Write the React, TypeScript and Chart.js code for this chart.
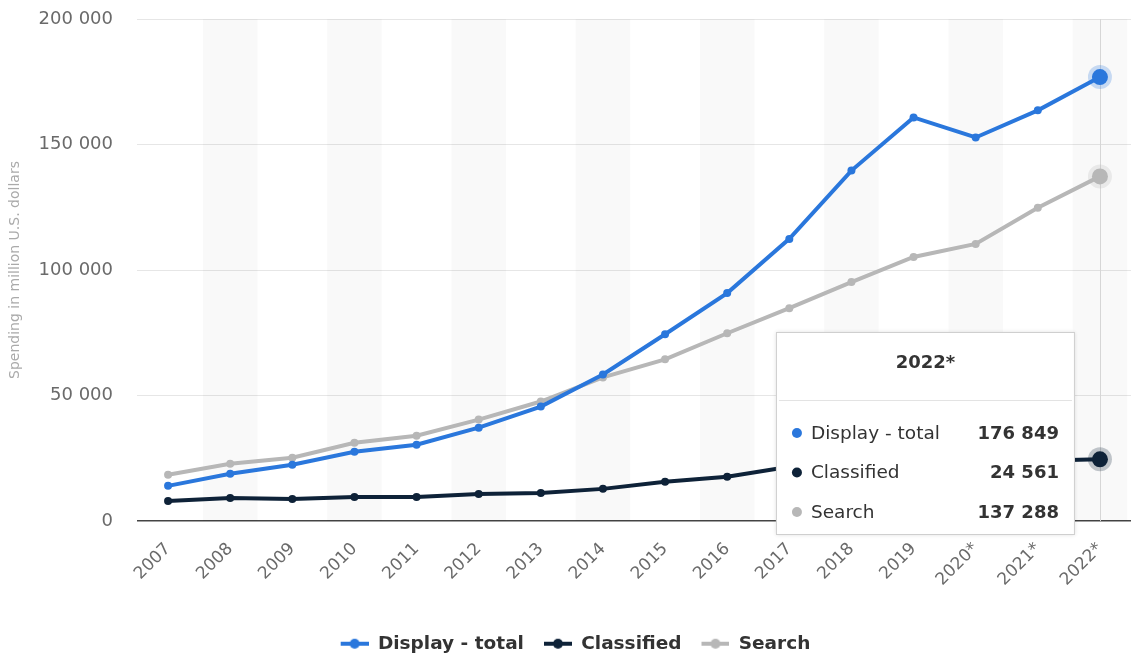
import React, { useEffect, useRef } from 'react';
import { Chart, registerables } from 'chart.js';

Chart.register(...registerables);

const years = ['2007', '2008', '2009', '2010', '2011', '2012', '2013', '2014', '2015', '2016', '2017', '2018', '2019', '2020*', '2021*', '2022*'];
const displayTotal = [14000, 18800, 22400, 27600, 30400, 37200, 45600, 58400, 74400, 90800, 112400, 139600, 160800, 152800, 163600, 176849];
const classified = [8000, 9200, 8800, 9600, 9600, 10800, 11200, 12800, 15600, 17600, 21600, 22600, 23200, 23000, 24000, 24561];
const search = [18400, 22800, 25200, 31200, 34000, 40400, 47600, 57200, 64400, 74800, 84800, 95200, 105200, 110400, 124800, 137288];
const seriesNames = ['Display - total', 'Classified', 'Search'];
const seriesColors = ['#2a77dc', '#0e2238', '#b7b7b7'];
const yAxisTitle = 'Spending in million U.S. dollars';
const highlightIndex = 15;

const FONT = '"DejaVu Sans", sans-serif';

const fmt = (v: number) => String(Math.round(v)).replace(/\B(?=(\d{3})+(?!\d))/g, ' ');

function makeMarker(color: string): HTMLCanvasElement {
  const c = document.createElement('canvas');
  c.width = 48;
  c.height = 12;
  const g = c.getContext('2d')!;
  g.strokeStyle = color;
  g.fillStyle = color;
  g.lineWidth = 4;
  g.beginPath();
  g.moveTo(20, 6);
  g.lineTo(48, 6);
  g.stroke();
  g.beginPath();
  g.arc(34, 6, 5, 0, Math.PI * 2);
  g.fill();
  return c;
}

const backgroundPlugin = {
  id: 'bands',
  beforeDatasetsDraw(chart: any) {
    const { ctx, chartArea, scales } = chart;
    const xs = scales.x;
    const step = chartArea.width / years.length;
    ctx.save();
    ctx.fillStyle = 'rgba(0,0,0,0.022)';
    years.forEach((_, i) => {
      if (i % 2 === 1) {
        const cx = xs.getPixelForValue(i);
        ctx.fillRect(cx - step * 0.44, chartArea.top, step * 0.88, chartArea.bottom - chartArea.top);
      }
    });
    const hx = xs.getPixelForValue(highlightIndex);
    ctx.strokeStyle = '#d6d6d6';
    ctx.lineWidth = 1;
    ctx.beginPath();
    ctx.moveTo(Math.round(hx) + 0.5, chartArea.top);
    ctx.lineTo(Math.round(hx) + 0.5, chartArea.bottom);
    ctx.stroke();
    chart.data.datasets.forEach((ds: any, di: number) => {
      const meta = chart.getDatasetMeta(di);
      const pt = meta.data[highlightIndex];
      if (!pt) return;
      ctx.beginPath();
      ctx.globalAlpha = 0.25;
      ctx.fillStyle = seriesColors[di];
      ctx.arc(pt.x, pt.y, 12, 0, Math.PI * 2);
      ctx.fill();
      ctx.globalAlpha = 1;
    });
    ctx.restore();
  },
};

const tooltipPlugin = {
  id: 'staticTooltip',
  afterDraw(chart: any) {
    const { ctx, scales } = chart;
    const hx = scales.x.getPixelForValue(highlightIndex);
    const bw = 299;
    const bh = 203;
    const bx = hx - 25 - bw;
    const by = 332;
    ctx.save();
    ctx.shadowColor = 'rgba(0,0,0,0.12)';
    ctx.shadowBlur = 4;
    ctx.fillStyle = '#ffffff';
    ctx.fillRect(bx, by, bw, bh);
    ctx.shadowColor = 'transparent';
    ctx.strokeStyle = '#cfcfcf';
    ctx.lineWidth = 1;
    ctx.strokeRect(bx + 0.5, by + 0.5, bw - 1, bh - 1);
    ctx.fillStyle = '#333333';
    ctx.font = `bold 18px ${FONT}`;
    ctx.textAlign = 'center';
    ctx.textBaseline = 'middle';
    ctx.fillText(years[highlightIndex], bx + bw / 2, by + 31);
    ctx.strokeStyle = '#e3e3e3';
    ctx.beginPath();
    ctx.moveTo(bx + 3, by + 68.5);
    ctx.lineTo(bx + bw - 3, by + 68.5);
    ctx.stroke();
    const values = [displayTotal, classified, search];
    values.forEach((arr, i) => {
      const ry = by + 102 + i * 39.5;
      ctx.fillStyle = seriesColors[i];
      ctx.beginPath();
      ctx.arc(bx + 21, ry - 1, 5, 0, Math.PI * 2);
      ctx.fill();
      ctx.fillStyle = '#333333';
      ctx.font = `18.5px ${FONT}`;
      ctx.textAlign = 'left';
      ctx.fillText(seriesNames[i], bx + 35, ry);
      ctx.font = `bold 18px ${FONT}`;
      ctx.textAlign = 'right';
      ctx.fillText(fmt(arr[highlightIndex]), bx + bw - 16, ry);
    });
    ctx.restore();
  },
};

export default function App() {
  const ref = useRef<HTMLCanvasElement | null>(null);

  useEffect(() => {
    if (!ref.current) return;
    const seriesData = [displayTotal, classified, search];
    const chart = new Chart(ref.current, {
      type: 'line',
      data: {
        labels: years,
        datasets: seriesData.map((d, i) => ({
          label: seriesNames[i],
          data: d,
          borderColor: seriesColors[i],
          backgroundColor: seriesColors[i],
          borderWidth: 4,
          pointRadius: (c: any) => (c.dataIndex === highlightIndex ? 8 : 4),
          pointBackgroundColor: seriesColors[i],
          pointBorderWidth: 0,
          pointStyle: 'circle',
          tension: 0,
          fill: false,
        })),
      },
      options: {
        animation: false,
        responsive: true,
        maintainAspectRatio: false,
        layout: { autoPadding: false, padding: { top: 19, right: 3, left: 0, bottom: 0 } },
        plugins: {
          tooltip: { enabled: false },
          legend: {
            position: 'bottom',
            labels: {
              usePointStyle: true,
              pointStyleWidth: 48,
              padding: 0,
              color: '#333333',
              font: { family: FONT, size: 18.5, weight: 'bold' },
              generateLabels: (ch: any) =>
                ch.data.datasets.map((ds: any, i: number) => ({
                  text: ds.label,
                  fillStyle: seriesColors[i],
                  strokeStyle: seriesColors[i],
                  lineWidth: 0,
                  pointStyle: makeMarker(seriesColors[i]),
                  fontColor: '#333333',
                  hidden: false,
                  datasetIndex: i,
                })),
            },
          },
        },
        scales: {
          x: {
            offset: true,
            grid: { display: false, drawTicks: false },
            border: { display: false },
            ticks: {
              color: '#6a6a6a',
              font: { family: FONT, size: 17 },
              maxRotation: 45,
              minRotation: 45,
              padding: 18,
              autoSkip: false,
            },
            afterFit: (s: any) => {
              s.height = 113.5;
              s.paddingLeft = 0;
              s.paddingRight = 0;
            },
          },
          y: {
            min: 0,
            max: 200000,
            border: { display: false },
            grid: {
              drawTicks: false,
              color: (c: any) => (c.tick && c.tick.value === 0 ? '#444444' : '#e6e6e6'),
              lineWidth: (c: any) => (c.tick && c.tick.value === 0 ? 1.5 : 1),
            },
            ticks: {
              stepSize: 50000,
              color: '#6a6a6a',
              padding: 24,
              font: { family: FONT, size: 18 },
              callback: (v: any) => fmt(Number(v)),
            },
            title: {
              display: true,
              text: yAxisTitle,
              color: '#aaaaaa',
              font: { family: FONT, size: 14 },
              padding: { top: 7, bottom: 0 },
            },
            afterFit: (s: any) => {
              s.width = 137;
              s.paddingTop = 0;
              s.paddingBottom = 0;
            },
          },
        },
      },
      plugins: [backgroundPlugin, tooltipPlugin],
    });
    return () => chart.destroy();
  }, []);

  return (
    <div style={{ position: 'fixed', left: 0, top: 0, width: 1134, height: 663, background: '#ffffff' }}>
      <canvas ref={ref} />
    </div>
  );
}
